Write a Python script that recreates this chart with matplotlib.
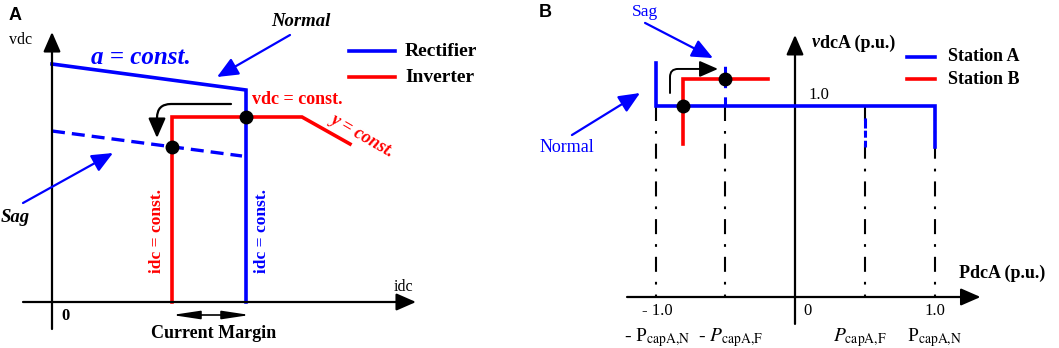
import numpy as np
import matplotlib
matplotlib.use("Agg")
import matplotlib.pyplot as plt

plt.rcParams['font.family'] = ['Liberation Serif', 'DejaVu Serif']
plt.rcParams['mathtext.fontset'] = 'stix'

BLUE = '#0000ff'
RED = '#ff0000'

# ---- panel A data (schematic units, origin at axis crossing) ----
rect_idc = [0, 194, 194]
rect_vdc = [238, 212, 0]
rect_sag_idc = [0, 190]
rect_sag_vdc = [171, 146]
inv_idc = [120, 120, 250, 298]
inv_vdc = [0, 185, 185, 158]
opA_idc = [194, 120]
opA_vdc = [185, 155]

# ---- panel B data (p.u.) ----
staA_P = [-1.0, -1.0, 1.0, 1.0]
staA_v = [1.225, 1.0, 1.0, 0.785]
staB_P = [-0.80, -0.80, -0.19]
staB_v = [0.80, 1.14, 1.14]
guide_P = [-1.0, -0.5, 0.5, 1.0]
sagA_P = -0.5
sagA_v = [1.0, 1.215]
faultA_P = 0.5
faultA_v = [1.0, 0.785]
opB_P = [-0.80, -0.5]
opB_v = [1.0, 1.14]
tick_P = [-1.0, 0.0, 1.0]
tick_lbl = ['- 1.0', '0', '1.0']
cap_P = [-1.0, -0.5, 0.5, 1.0]
cap_lbl = [r'- P$_{\mathrm{capA{,}N}}$', r'- $P_{\mathrm{capA{,}F}}$',
           r'$P_{\mathrm{capA{,}F}}$', r'P$_{\mathrm{capA{,}N}}$']

fig = plt.figure(figsize=(10.59, 3.48), dpi=100)

# panel A: 1 unit = 1 px, origin at px (52, 302)
axA = fig.add_axes([0, 0, 530 / 1059, 1])
axA.set_xlim(-52, 530 - 52)
axA.set_ylim(302 - 348, 302)
axA.axis('off')

# panel B: x = (px-795)/139.5, y = (297-py)/191
axB = fig.add_axes([530 / 1059, 0, 529 / 1059, 1])
axB.set_xlim((530 - 795) / 139.5, (1059 - 795) / 139.5)
axB.set_ylim((297 - 348) / 191, 297 / 191)
axB.axis('off')


def arrow(ax, start, end, color='k', lw=1.6, hl=0.8, hw=0.35, ms=15, cs='arc3'):
    ax.annotate('', xy=end, xytext=start,
                arrowprops=dict(arrowstyle=f'-|>,head_length={hl},head_width={hw}',
                                color=color, lw=lw, mutation_scale=ms,
                                shrinkA=0, shrinkB=0, connectionstyle=cs))


# ================= Panel A =================
arrow(axA, (0, -27), (0, 270))
arrow(axA, (-29, 0), (364, 0))

axA.plot(rect_idc, rect_vdc, color=BLUE, lw=2.6, solid_joinstyle='miter')
axA.plot(rect_sag_idc, rect_sag_vdc, color=BLUE, lw=2.4, linestyle=(0, (3.9, 2.1)))
axA.plot(inv_idc, inv_vdc, color=RED, lw=2.6, solid_joinstyle='miter')
axA.plot(opA_idc, opA_vdc, 'o', color='k', ms=9, zorder=5)

# legend
axA.plot([297, 343], [251, 251], color=BLUE, lw=2.6)
axA.plot([297, 343], [225, 225], color=RED, lw=2.6)
axA.text(353, 251, 'Rectifier', fontsize=14, fontweight='bold', va='center')
axA.text(353, 225, 'Inverter', fontsize=14, fontweight='bold', va='center')

axA.text(-37, 287, 'A', family='Liberation Sans', fontsize=13, fontweight='bold',
         ha='center', va='center')
axA.text(-31, 262, 'vdc', fontsize=11.5, ha='center', va='center')
axA.text(351, 15, 'idc', fontsize=11.5, ha='center', va='center')
axA.text(13, -14, '0', fontsize=12, fontweight='bold', ha='center', va='center')
axA.text(89, 245, 'a = const.', color=BLUE, fontsize=18, fontweight='bold',
         style='italic', ha='center', va='center')
axA.text(249, 281, 'Normal', fontsize=13.5, fontweight='bold', style='italic',
         ha='center', va='center')
arrow(axA, (238, 267), (165, 225), color=BLUE, lw=1.6, ms=16)
axA.text(-37, 85, 'Sag', fontsize=13.5, fontweight='bold', style='italic',
         ha='center', va='center')
arrow(axA, (-29, 99), (61, 149), color=BLUE, lw=1.6, ms=16)
axA.text(245, 202, 'vdc = const.', color=RED, fontsize=13, fontweight='bold',
         ha='center', va='center')
axA.text(311, 167, 'y = const.', color=RED, fontsize=13, fontweight='bold',
         style='italic', rotation=-30, ha='center', va='center', rotation_mode='anchor')
axA.text(105, 71, 'idc = const.', color=RED, fontsize=12.5, fontweight='bold',
         rotation=90, ha='center', va='center')
axA.text(210, 71, 'idc = const.', color=BLUE, fontsize=12.5, fontweight='bold',
         rotation=90, ha='center', va='center')
axA.annotate('', xy=(198, -13), xytext=(120, -13),
             arrowprops=dict(arrowstyle='<|-|>,head_length=1.2,head_width=0.18',
                             color='k', lw=1.2, mutation_scale=14, shrinkA=0, shrinkB=0))
axA.text(162, -31, 'Current Margin', fontsize=13, fontweight='bold',
         ha='center', va='center')
arrow(axA, (179, 198), (105, 164), lw=1.6, ms=15,
      cs='angle,angleA=0,angleB=90,rad=14')

# ================= Panel B =================
arrow(axB, (0, -0.141), (0, 1.372))
arrow(axB, (-1.204, 0), (1.33, 0))

for p in guide_P:
    axB.plot([p, p], [1.0, 0.0], color='k', lw=1.5,
             linestyle=(0, (7.2, 4.8, 1.3, 4.8)))
axB.plot([sagA_P, sagA_P], sagA_v, color=BLUE, lw=2.2,
         linestyle=(0, (3.0, 3.0, 1.0, 3.0)))
axB.plot([faultA_P, faultA_P], faultA_v, color=BLUE, lw=2.2,
         linestyle=(0, (0.01, 3.9, 3.3, 0.7, 2.3, 1.0, 2.3, 20)))
axB.plot(staA_P, staA_v, color=BLUE, lw=2.6, solid_joinstyle='miter', zorder=3)
axB.plot(staB_P, staB_v, color=RED, lw=2.6, solid_joinstyle='miter', zorder=3)
axB.plot(opB_P, opB_v, 'o', color='k', ms=9, zorder=5)

# legend
axB.plot([0.803, 1.004], [1.257, 1.257], color=BLUE, lw=2.6)
axB.plot([0.803, 1.004], [1.141, 1.141], color=RED, lw=2.6)
axB.text(1.097, 1.257, 'Station A', fontsize=13, fontweight='bold', va='center')
axB.text(1.097, 1.141, 'Station B', fontsize=13, fontweight='bold', va='center')

axB.text(-1.792, 1.487, 'B', family='Liberation Sans', fontsize=13, fontweight='bold',
         ha='center', va='center')
axB.text(0.180, 1.330, 'v', fontsize=13, fontweight='bold', style='italic',
         ha='right', va='center')
axB.text(0.180, 1.330, 'dcA (p.u.)', fontsize=13, fontweight='bold',
         ha='left', va='center')
axB.text(0.172, 1.058, '1.0', fontsize=12, ha='center', va='center')
axB.text(1.484, 0.126, 'PdcA (p.u.)', fontsize=13, fontweight='bold',
         ha='center', va='center')
axB.text(-1.075, 1.492, 'Sag', color=BLUE, fontsize=12.5, ha='center', va='center')
arrow(axB, (-1.075, 1.435), (-0.588, 1.251), color=BLUE, lw=1.6, ms=16)
axB.text(-1.634, 0.785, 'Normal', color=BLUE, fontsize=13, ha='center', va='center')
arrow(axB, (-1.599, 0.848), (-1.111, 1.068), color=BLUE, lw=1.6, ms=16)
arrow(axB, (-0.896, 1.068), (-0.552, 1.194), lw=1.4, ms=14,
      cs='angle,angleA=90,angleB=0,rad=8')

tick_x = [-0.99, 0.093, 1.0]
for x, lbl in zip(tick_x, tick_lbl):
    axB.text(x, -0.073, lbl, fontsize=12, ha='center', va='center')
cap_x = [-0.99, -0.466, 0.466, 1.0]
for x, lbl in zip(cap_x, cap_lbl):
    axB.text(x, -0.212, lbl, fontsize=14, ha='center', va='center')

fig.savefig('out.png', dpi=100)
